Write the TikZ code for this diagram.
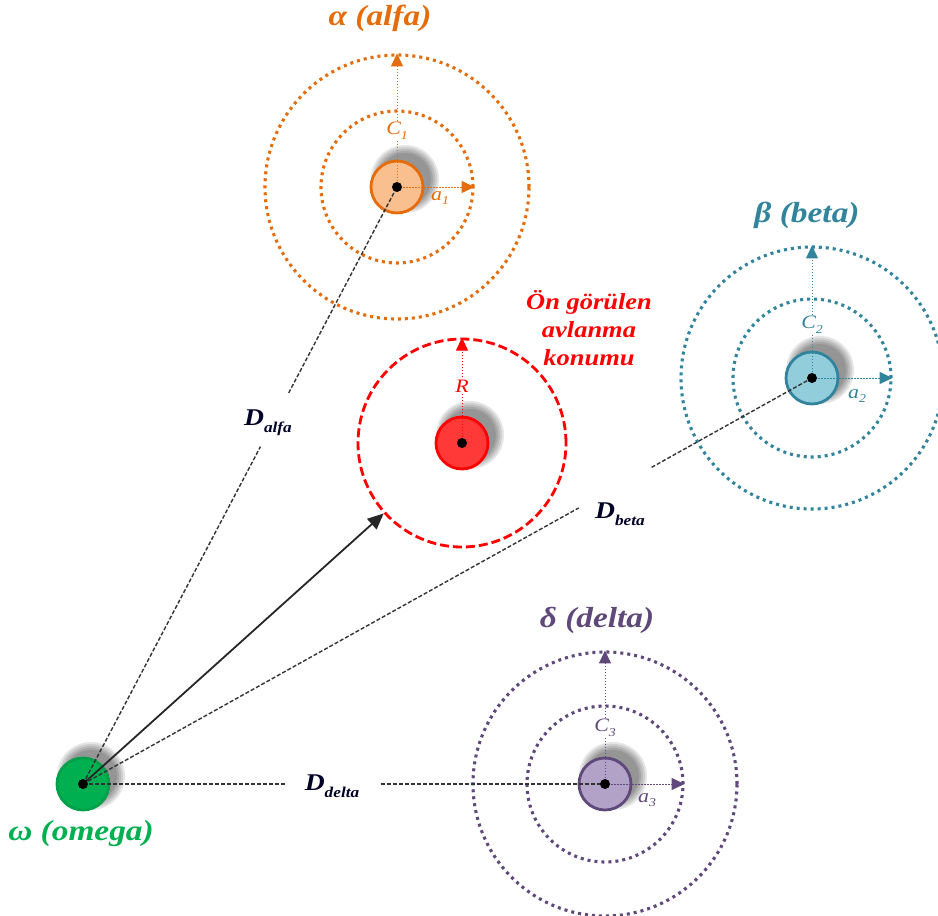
\documentclass[tikz,border=0pt]{standalone}
\usepackage{fontspec}
\setmainfont{Liberation Serif}[FakeStretch=1.15]
\usetikzlibrary{arrows.meta,calc}
\definecolor{orA}{HTML}{E46C0A}
\definecolor{orF}{HTML}{F9BF8F}
\definecolor{teA}{HTML}{31849B}
\definecolor{teF}{HTML}{92CDDC}
\definecolor{puA}{HTML}{5F497A}
\definecolor{puF}{HTML}{B3A2C7}
\definecolor{grA}{HTML}{00A04A}
\definecolor{grF}{HTML}{00B050}
\definecolor{rdA}{HTML}{FF0000}
\definecolor{rdF}{HTML}{FF3838}
\newcommand{\blobshadow}[1]{\foreach \rr in {34,32,30,28,26}{\fill[black,opacity=0.1] ($(#1)+(8,-8)$) circle[radius=\rr];}}
\newcommand{\dsub}[2]{#1\raisebox{-0.28em}{\fontsize{15}{15}\selectfont #2}}
\begin{document}
\begin{tikzpicture}[x=1pt,y=-1pt,
  dotring/.style={circle, draw=#1, line width=3.1pt, dash pattern=on 3pt off 4pt, inner sep=0pt},
  hub/.style 2 args={circle, draw=#1, fill=#2, line width=2.8pt, minimum size=52pt, inner sep=0pt},
  axisarrow/.style={draw=#1, line width=1pt, dash pattern=on 1.5pt off 1.5pt, -{Triangle[length=13pt,width=12pt,fill=#1]}},
  glabel/.style={font=\fontsize{29}{31}\selectfont\bfseries\itshape, text=#1},
  sublabel/.style={font=\fontsize{19}{21}\selectfont\itshape, text=#1, inner sep=1pt},
  dlabel/.style={font=\fontsize{24}{26}\selectfont\bfseries\itshape, text=black!85!blue},
  distline/.style={draw=black!80, line width=1.4pt, dash pattern=on 4pt off 2pt},
  ctrdot/.style={fill=black}
]
\useasboundingbox (0,0) rectangle (938,916);
% centres
\coordinate (ac) at (397,187);
\coordinate (bc) at (812,378);
\coordinate (rc) at (462,443);
\coordinate (dc) at (605,784);
\coordinate (oc) at (83,784);
% rings
\node[dotring=orA, minimum size=152pt] (ain) at (ac) {};
\node[dotring=orA, minimum size=264pt] (aout) at (ac) {};
\node[dotring=teA, minimum size=158pt] (bin) at (bc) {};
\node[dotring=teA, minimum size=262pt] (bout) at (bc) {};
\node[dotring=puA, minimum size=156pt] (din) at (dc) {};
\node[dotring=puA, minimum size=264pt] (dout) at (dc) {};
\node[circle, draw=rdA, line width=2.8pt, dash pattern=on 9pt off 4pt, minimum size=208pt, inner sep=0pt] (ring) at (rc) {};
% shadows
\blobshadow{ac}\blobshadow{bc}\blobshadow{rc}\blobshadow{dc}\blobshadow{oc}
% hubs
\node[hub={orA}{orF}] (alpha) at (ac) {};
\node[hub={teA}{teF}] (beta) at (bc) {};
\node[hub={puA}{puF}] (delta) at (dc) {};
\node[hub={rdA}{rdF}] (prey) at (rc) {};
\node[hub={grA}{grF}] (omega) at (oc) {};
% axis arrows
\draw[axisarrow=orA] (alpha.center) -- (aout.north) node[pos=0.42, sublabel=orA, fill=white] (c1) {C\raisebox{-0.25em}{\fontsize{12}{12}\selectfont 1}};
\draw[axisarrow=orA] (alpha.center) -- (ain.east);
\node[sublabel=orA] (a1) at (440,198) {a\raisebox{-0.25em}{\fontsize{12}{12}\selectfont 1}};
\draw[axisarrow=teA] (beta.center) -- (bout.north) node[pos=0.40, sublabel=teA, fill=white] (c2) {C\raisebox{-0.25em}{\fontsize{12}{12}\selectfont 2}};
\draw[axisarrow=teA] (beta.center) -- (bin.east);
\node[sublabel=teA] (a2) at (857,396) {a\raisebox{-0.25em}{\fontsize{12}{12}\selectfont 2}};
\draw[axisarrow=puA] (delta.center) -- (dout.north) node[pos=0.42, sublabel=puA, fill=white] (c3) {C\raisebox{-0.25em}{\fontsize{12}{12}\selectfont 3}};
\draw[axisarrow=puA] (delta.center) -- (din.east);
\node[sublabel=puA] (a3) at (647,800) {a\raisebox{-0.25em}{\fontsize{12}{12}\selectfont 3}};
\draw[axisarrow=rdA] (prey.center) -- (ring.north) node[pos=0.54, sublabel=rdA, fill=white] (rl) {R};
% distance lines
\coordinate (ga1) at ($(omega.center)!0.565!(alpha.center)$);
\coordinate (ga2) at ($(omega.center)!0.655!(alpha.center)$);
\draw[distline] (omega.center) -- (ga1);
\draw[distline] (ga2) -- (alpha.center);
\node[dlabel] (dalfa) at (268,423) {\dsub{D}{alfa}};
\coordinate (gb1) at ($(omega.center)!0.68!(beta.center)$);
\coordinate (gb2) at ($(omega.center)!0.78!(beta.center)$);
\draw[distline] (omega.center) -- (gb1);
\draw[distline] (gb2) -- (beta.center);
\node[dlabel] (dbeta) at (620,514) {\dsub{D}{beta}};
\coordinate (gd1) at ($(omega.center)!0.39!(delta.center)$);
\coordinate (gd2) at ($(omega.center)!0.57!(delta.center)$);
\draw[distline] (omega.center) -- (gd1);
\draw[distline] (gd2) -- (delta.center);
\node[dlabel] (ddelta) at (332,786) {\dsub{D}{delta}};
\draw[black!85, line width=1.8pt, -{Triangle[length=16pt,width=14pt]}] (omega.center) -- (ring);
% centre dots
\foreach \c in {alpha,beta,delta,prey,omega}{\fill[ctrdot] (\c.center) circle[radius=5];}
% group labels
\node[glabel=orA] (lalpha) at (380,18) {α (alfa)};
\node[glabel=teA] (lbeta) at (807,215) {β (beta)};
\node[glabel=puA] (ldelta) at (597,620) {δ (delta)};
\node[glabel=grF] (lomega) at (81,834) {ω (omega)};
\node[font=\fontsize{23}{28}\selectfont\bfseries\itshape, text=rdA, align=center] (lprey) at (589,328) {Ön görülen\\avlanma\\konumu};
\end{tikzpicture}
\end{document}
